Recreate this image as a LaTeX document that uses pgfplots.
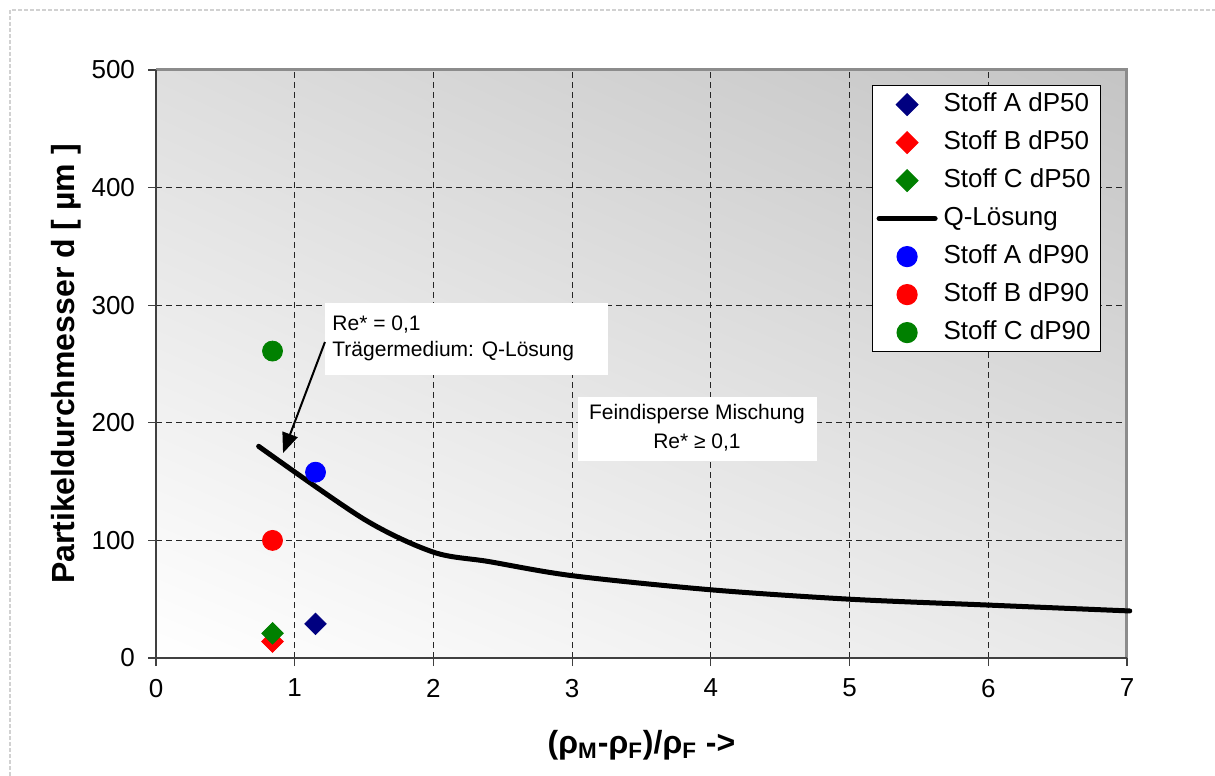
\documentclass[border=0pt]{standalone}
\usepackage{fontspec}
\setmainfont{Liberation Sans}
\usepackage{pgfplots}
\pgfplotsset{compat=1.18}
\usetikzlibrary{shadings,arrows.meta}

\definecolor{navyA}{RGB}{0,0,128}
\definecolor{redB}{RGB}{255,0,0}
\definecolor{greenC}{RGB}{0,128,0}
\definecolor{blueA}{RGB}{0,0,255}

\newcommand{\titlefont}{\bfseries\fontsize{16}{18}\selectfont}

\begin{document}
\begin{tikzpicture}
\path[use as bounding box] (0,0) rectangle (607.5pt,388pt);
\draw[black!18, dash pattern=on 2pt off 1pt, line width=0.6pt] (5pt,0pt) -- (5pt,383pt) -- (607.5pt,383pt);
\begin{axis}[
  at={(78pt,59pt)}, anchor=south west,
  scale only axis, width=485.5pt, height=294pt,
  xmin=0, xmax=7, ymin=0, ymax=500,
  xtick={0,...,7}, ytick={0,100,...,500},
  clip=false,
  grid=major,
  major grid style={black!85, dash pattern=on 3pt off 2pt, line width=0.5pt},
  tick align=outside, tick pos=left,
  major tick length=4pt,
  tick style={black!75, line width=0.6pt},
  axis line style={draw=none},
  axis background/.style={shade, shading=bilinear interpolation,
    lower left=white, upper left=black!13, lower right=black!9, upper right=black!23},
  /pgf/number format/assume math mode=true,
  ticklabel style={font=\fontsize{13}{15}\selectfont},
  xticklabel style={yshift=-3pt},
  yticklabel style={xshift=-3pt},
  xlabel={(ρ\textsubscript{M}-ρ\textsubscript{F})/ρ\textsubscript{F} ->},
  ylabel={Partikeldurchmesser d [ µm ]},
  every axis x label/.style={at={(axis description cs:0.5,-0.148)}, anchor=center, font=\titlefont},
  every axis y label/.style={at={(axis description cs:-0.0927,0.5)}, rotate=90, anchor=center, font=\titlefont},
  legend style={at={(axis description cs:0.7374,0.9745)}, anchor=north west,
    draw=black, line width=0.6pt, fill=white,
    font=\fontsize{13}{15}\selectfont,
    inner xsep=2pt, inner ysep=3pt, row sep=6pt,
    nodes={text height=10pt, text depth=3pt, inner sep=0pt, inner xsep=3pt},
    cells={anchor=west}},
  legend cell align=left,
  legend image code/.code={\draw[mark repeat=2,mark phase=2,#1]
    plot coordinates {(0pt,0pt)(14pt,0pt)(28pt,0pt)};},
]
% plot frame: grey top/right edge, dark left/bottom axis lines
\draw[black!45, line width=1.5pt] (rel axis cs:0,1) -- (rel axis cs:1,1) -- (rel axis cs:1,0);
\draw[black!75, line width=1pt] (rel axis cs:0,1) -- (rel axis cs:0,0) -- (rel axis cs:1,0);

% annotation boxes
\fill[white] (axis cs:1.218,240.6) rectangle (axis cs:3.259,301.5);
\node[anchor=base west, inner sep=0pt, font=\fontsize{10.5}{12}\selectfont] at (axis cs:1.269,278.9) {Re* = 0,1};
\node[anchor=base west, inner sep=0pt, font=\fontsize{10.5}{12}\selectfont] at (axis cs:1.269,256.0) {Trägermedium: Q-Lösung};
\draw[-{Triangle[length=10pt,width=8pt]}, line width=1pt] (axis cs:1.218,268.7) -- (axis cs:0.916,174.3);

\fill[white] (axis cs:3.042,167.5) rectangle (axis cs:4.765,222);
\node[anchor=base, inner sep=0pt, font=\fontsize{10.5}{12}\selectfont] at (axis cs:3.900,203.0) {Feindisperse Mischung};
\node[anchor=base, inner sep=0pt, font=\fontsize{10.5}{12}\selectfont] at (axis cs:3.900,178.3) {Re* ≥ 0,1};

% d50 values
\addplot[only marks, mark=square*, mark size=3.8pt, mark options={rotate=45, fill=navyA, draw=navyA}]
  coordinates {(1.15,29)};
\addlegendentry{Stoff A dP50}
\addplot[only marks, mark=square*, mark size=3.8pt, mark options={rotate=45, fill=redB, draw=redB}]
  coordinates {(0.84,14)};
\addlegendentry{Stoff B dP50}
\addplot[only marks, mark=square*, mark size=3.8pt, mark options={rotate=45, fill=greenC, draw=greenC}]
  coordinates {(0.84,21)};
\addlegendentry{Stoff C dP50}

% carrier medium curve
\addplot[black, line width=2.5pt, smooth, line cap=round, mark=none]
  coordinates {(0.74,180) (1.5,118) (2.0,90) (2.4,82) (3,70) (4,58) (5,50) (6,45) (7.02,40)};
\addlegendentry{Q-Lösung}

% d90 values
\addplot[only marks, mark=*, mark size=5pt, mark options={fill=blueA, draw=blueA}]
  coordinates {(1.15,158)};
\addlegendentry{Stoff A dP90}
\addplot[only marks, mark=*, mark size=5pt, mark options={fill=redB, draw=redB}]
  coordinates {(0.84,100)};
\addlegendentry{Stoff B dP90}
\addplot[only marks, mark=*, mark size=5pt, mark options={fill=greenC, draw=greenC}]
  coordinates {(0.84,261)};
\addlegendentry{Stoff C dP90}
\end{axis}
\end{tikzpicture}
\end{document}
